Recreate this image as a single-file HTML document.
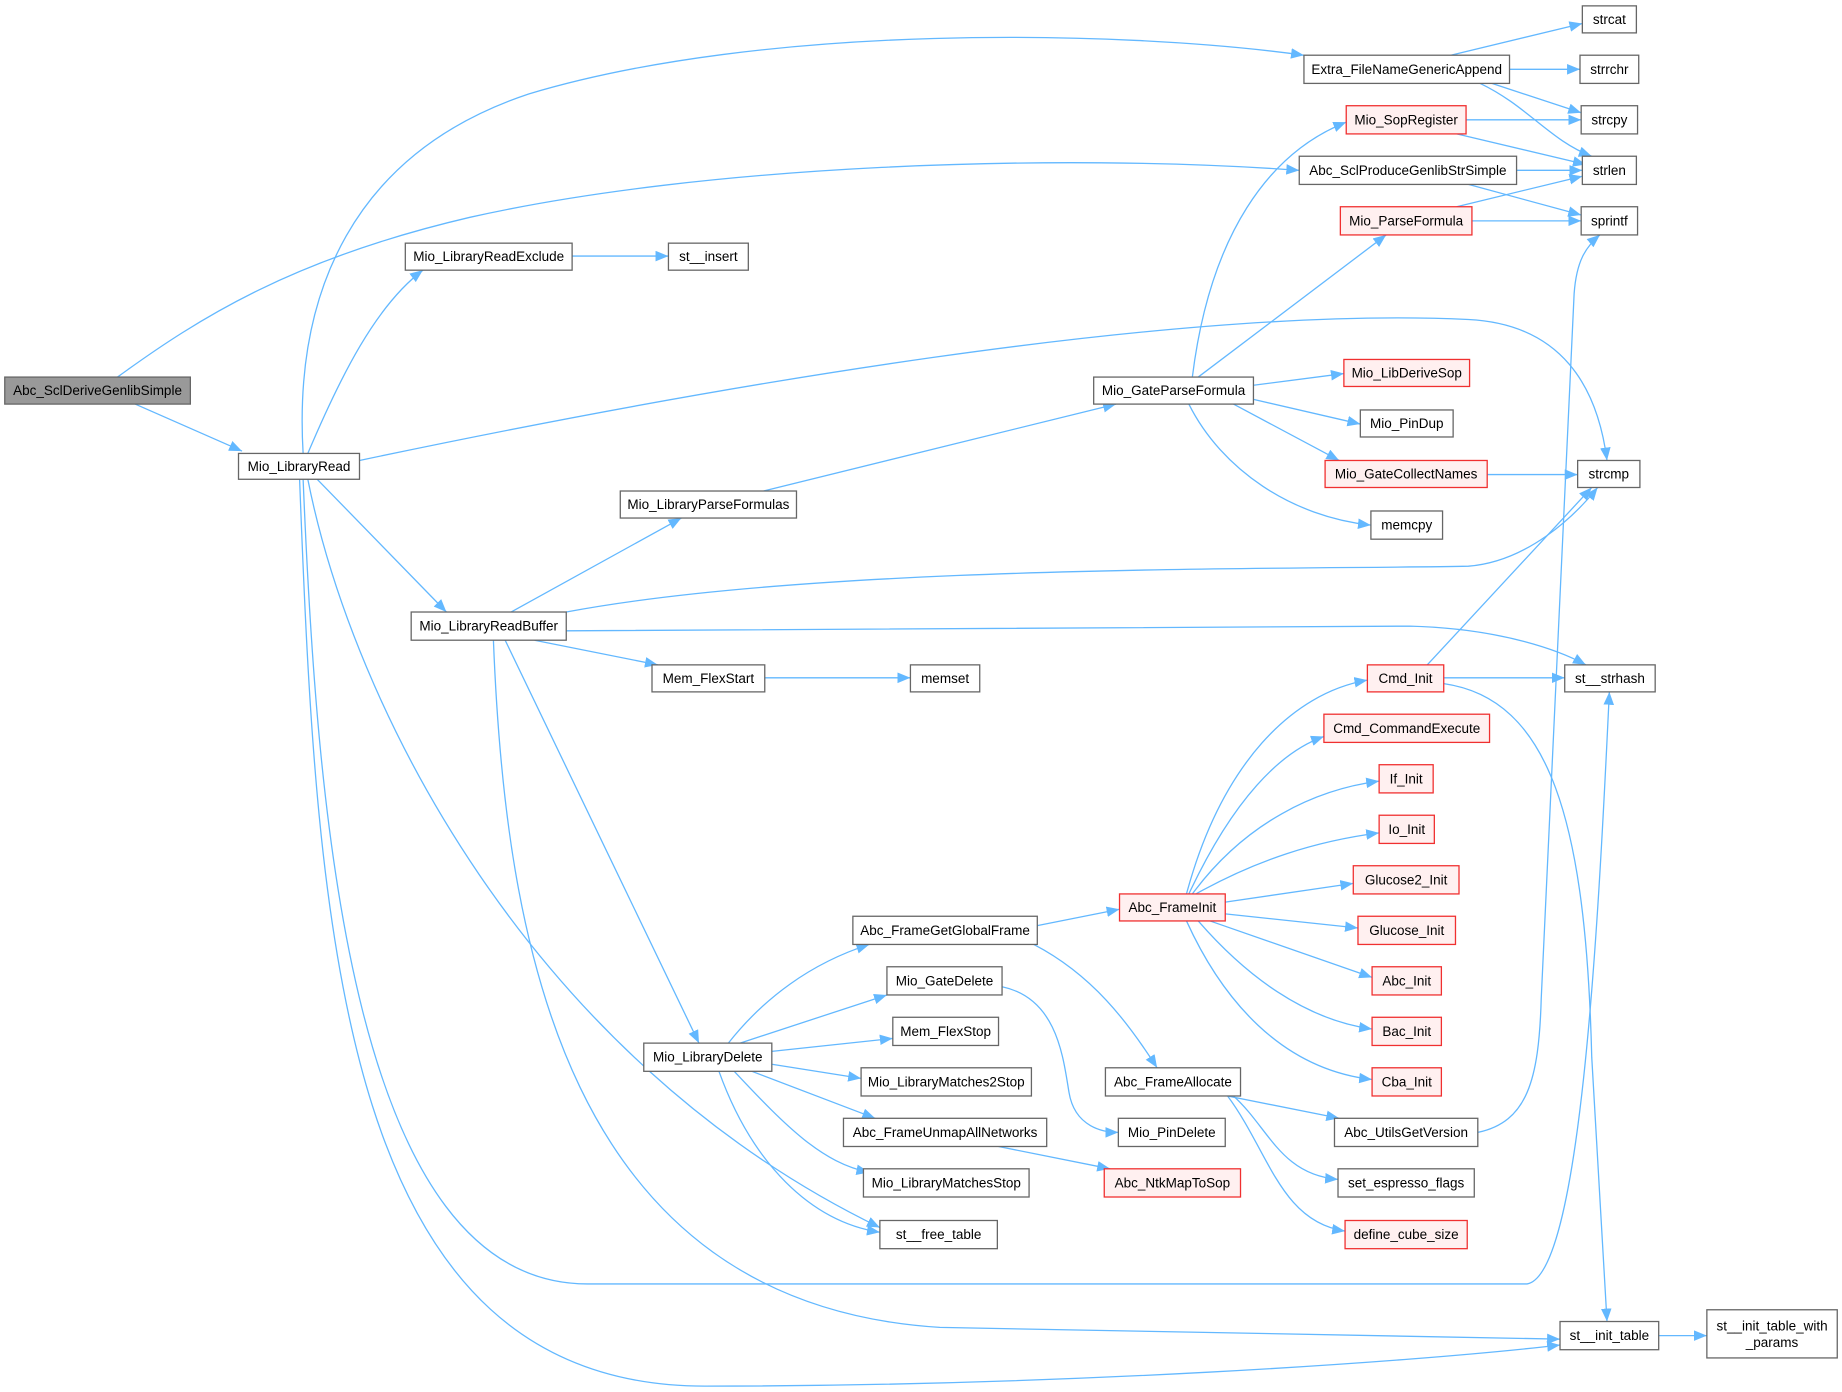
<!DOCTYPE html>
<html><head><meta charset="utf-8"><style>
html,body{margin:0;padding:0;background:#fff;}
svg{display:block;}
text{font-family:"Liberation Sans",Arial,sans-serif;font-size:11.5px;fill:#000;text-anchor:middle;dominant-baseline:central;}
.n{fill:#fff;stroke:#666;stroke-width:1.1;}
.r{fill:#fff0f0;stroke:#f03030;stroke-width:1.1;}
.g{fill:#999;stroke:#666;stroke-width:1.1;}
path.e{fill:none;stroke:#63b8ff;stroke-width:1.1;marker-end:url(#a);}
</style></head><body>
<svg width="1842" height="1392" viewBox="0 0 1568 1185" xmlns="http://www.w3.org/2000/svg">
<defs><marker id="a" markerUnits="userSpaceOnUse" markerWidth="12" markerHeight="10" refX="11" refY="4.5" orient="auto"><path d="M0,0 L11,4.5 L0,9 z" fill="#63b8ff"/></marker></defs>
<g>
<path class="e" d="M115,344 L206,384"/>
<path class="e" d="M100,321 C170,270 250,220 400,185 C600,140 900,130 1106,145"/>
<path class="e" d="M258,386 C250,250 300,130 450,80 C650,20 950,25 1110,47"/>
<path class="e" d="M262,386 C290,320 320,260 360,230"/>
<path class="e" d="M306,392 C600,330 1000,260 1250,272 C1330,276 1360,330 1368,392"/>
<path class="e" d="M270,408 L380,521"/>
<path class="e" d="M262,408 C300,600 450,900 749,1045"/>
<path class="e" d="M258,408 C270,700 300,1093 500,1093 L1300,1093 C1345,1085 1360,800 1370,589"/>
<path class="e" d="M255,408 C270,800 290,1180 600,1180 C900,1180 1200,1160 1328,1145"/>
<path class="e" d="M435,521 L580,441"/>
<path class="e" d="M482,521 C700,480 1100,485 1250,482 C1300,478 1340,440 1360,415"/>
<path class="e" d="M482,537 L1200,533 C1280,535 1330,555 1350,566"/>
<path class="e" d="M455,545 L560,566"/>
<path class="e" d="M430,545 L595,888"/>
<path class="e" d="M420,545 C430,800 480,1110 800,1130 L1328,1140"/>
<path class="e" d="M650,418 L950,344"/>
<path class="e" d="M1015,321 C1030,200 1080,130 1146,104"/>
<path class="e" d="M1020,321 L1180,200"/>
<path class="e" d="M1067,328 L1144,318"/>
<path class="e" d="M1067,340 L1158,361"/>
<path class="e" d="M1050,344 L1140,392"/>
<path class="e" d="M1012,344 C1040,400 1100,440 1167,447"/>
<path class="e" d="M1235,47 L1347,20"/>
<path class="e" d="M1285,59 L1345,59"/>
<path class="e" d="M1270,71 L1346,96"/>
<path class="e" d="M1260,71 C1300,90 1320,120 1355,133"/>
<path class="e" d="M1248,102 L1346,102"/>
<path class="e" d="M1240,114 L1350,140"/>
<path class="e" d="M1291,145 L1347,145"/>
<path class="e" d="M1250,157 L1346,183"/>
<path class="e" d="M1240,176 L1347,150"/>
<path class="e" d="M1253,188 L1346,188"/>
<path class="e" d="M1266,404 L1343,404"/>
<path class="e" d="M487,218 L569,218"/>
<path class="e" d="M651,577 L775,577"/>
<path class="e" d="M1215,566 L1355,415"/>
<path class="e" d="M1229,577 L1332,577"/>
<path class="e" d="M1229,582 C1320,595 1350,700 1355,900 L1368,1125"/>
<path class="e" d="M1258,964 C1300,955 1310,920 1312,850 L1340,250 C1342,222 1350,210 1362,200"/>
<path class="e" d="M1010,761 C1040,650 1100,590 1164,579"/>
<path class="e" d="M1012,761 C1050,680 1090,640 1127,627"/>
<path class="e" d="M1015,761 C1060,700 1120,672 1174,665"/>
<path class="e" d="M1018,761 C1070,732 1120,716 1174,709"/>
<path class="e" d="M1043,768 L1152,752"/>
<path class="e" d="M1043,778 L1156,790"/>
<path class="e" d="M1030,784 L1168,832"/>
<path class="e" d="M1020,784 C1060,830 1110,868 1168,876"/>
<path class="e" d="M1010,784 C1040,850 1090,910 1168,919"/>
<path class="e" d="M883,788 L953,774"/>
<path class="e" d="M880,804 C930,830 960,870 985,909"/>
<path class="e" d="M620,888 C650,850 690,820 740,804"/>
<path class="e" d="M630,888 L755,847"/>
<path class="e" d="M657,895 L760,884"/>
<path class="e" d="M657,906 L733,918"/>
<path class="e" d="M640,912 L745,952"/>
<path class="e" d="M625,912 C670,960 700,990 740,998"/>
<path class="e" d="M612,912 C640,990 690,1040 749,1049"/>
<path class="e" d="M853,840 C900,850 905,900 910,930 C915,960 940,964 952,964"/>
<path class="e" d="M850,976 L945,995"/>
<path class="e" d="M1045,933 L1140,952"/>
<path class="e" d="M1050,933 C1080,960 1090,1000 1139,1004"/>
<path class="e" d="M1045,933 C1080,980 1090,1040 1145,1048"/>
<path class="e" d="M1412,1137 L1453,1137"/>
</g>
<g>
<rect class="g" x="4" y="321" width="158" height="23"/><text x="83" y="332.5">Abc_SclDeriveGenlibSimple</text>
<rect class="n" x="203" y="386" width="103" height="22"/><text x="254.5" y="397">Mio_LibraryRead</text>
<rect class="n" x="1110" y="47" width="175" height="24"/><text x="1197.5" y="59">Extra_FileNameGenericAppend</text>
<rect class="n" x="1106" y="133" width="185" height="24"/><text x="1198.5" y="145">Abc_SclProduceGenlibStrSimple</text>
<rect class="n" x="345" y="207" width="142" height="23"/><text x="416" y="218.5">Mio_LibraryReadExclude</text>
<rect class="n" x="569" y="207" width="68" height="23"/><text x="603" y="218.5">st__insert</text>
<rect class="n" x="1347" y="5" width="46" height="23"/><text x="1370" y="16.5">strcat</text>
<rect class="n" x="1345" y="47" width="50" height="24"/><text x="1370" y="59">strrchr</text>
<rect class="n" x="1346" y="90" width="48" height="24"/><text x="1370" y="102">strcpy</text>
<rect class="n" x="1347" y="133" width="46" height="24"/><text x="1370" y="145">strlen</text>
<rect class="n" x="1346" y="176" width="48" height="24"/><text x="1370" y="188">sprintf</text>
<rect class="r" x="1146" y="90" width="102" height="24"/><text x="1197" y="102">Mio_SopRegister</text>
<rect class="r" x="1141" y="176" width="112" height="24"/><text x="1197" y="188">Mio_ParseFormula</text>
<rect class="n" x="931" y="321" width="136" height="23"/><text x="999" y="332.5">Mio_GateParseFormula</text>
<rect class="r" x="1144" y="306" width="107" height="23"/><text x="1197.5" y="317.5">Mio_LibDeriveSop</text>
<rect class="n" x="1158" y="349" width="79" height="23"/><text x="1197.5" y="360.5">Mio_PinDup</text>
<rect class="r" x="1128" y="392" width="138" height="23"/><text x="1197" y="403.5">Mio_GateCollectNames</text>
<rect class="n" x="1167" y="435" width="61" height="24"/><text x="1197.5" y="447">memcpy</text>
<rect class="n" x="1343" y="392" width="53" height="23"/><text x="1369.5" y="403.5">strcmp</text>
<rect class="n" x="528" y="418" width="150" height="23"/><text x="603" y="429.5">Mio_LibraryParseFormulas</text>
<rect class="n" x="350" y="521" width="132" height="24"/><text x="416" y="533">Mio_LibraryReadBuffer</text>
<rect class="n" x="555" y="566" width="96" height="23"/><text x="603" y="577.5">Mem_FlexStart</text>
<rect class="n" x="775" y="566" width="59" height="23"/><text x="804.5" y="577.5">memset</text>
<rect class="n" x="1332" y="566" width="77" height="23"/><text x="1370.5" y="577.5">st__strhash</text>
<rect class="r" x="1164" y="566" width="65" height="23"/><text x="1196.5" y="577.5">Cmd_Init</text>
<rect class="r" x="1127" y="608" width="141" height="24"/><text x="1197.5" y="620">Cmd_CommandExecute</text>
<rect class="r" x="1174" y="651" width="46" height="24"/><text x="1197" y="663">If_Init</text>
<rect class="r" x="1174" y="694" width="47" height="24"/><text x="1197.5" y="706">Io_Init</text>
<rect class="r" x="1152" y="737" width="90" height="24"/><text x="1197" y="749">Glucose2_Init</text>
<rect class="r" x="1156" y="780" width="83" height="24"/><text x="1197.5" y="792">Glucose_Init</text>
<rect class="r" x="1168" y="823" width="59" height="24"/><text x="1197.5" y="835">Abc_Init</text>
<rect class="r" x="1168" y="866" width="59" height="24"/><text x="1197.5" y="878">Bac_Init</text>
<rect class="r" x="1168" y="909" width="59" height="24"/><text x="1197.5" y="921">Cba_Init</text>
<rect class="r" x="953" y="761" width="90" height="23"/><text x="998" y="772.5">Abc_FrameInit</text>
<rect class="n" x="726" y="780" width="157" height="24"/><text x="804.5" y="792">Abc_FrameGetGlobalFrame</text>
<rect class="n" x="755" y="823" width="98" height="24"/><text x="804" y="835">Mio_GateDelete</text>
<rect class="n" x="760" y="866" width="90" height="24"/><text x="805" y="878">Mem_FlexStop</text>
<rect class="n" x="733" y="909" width="145" height="24"/><text x="805.5" y="921">Mio_LibraryMatches2Stop</text>
<rect class="n" x="718" y="952" width="173" height="24"/><text x="804.5" y="964">Abc_FrameUnmapAllNetworks</text>
<rect class="n" x="735" y="995" width="141" height="24"/><text x="805.5" y="1007">Mio_LibraryMatchesStop</text>
<rect class="n" x="749" y="1039" width="100" height="24"/><text x="799" y="1051">st__free_table</text>
<rect class="n" x="548" y="888" width="109" height="24"/><text x="602.5" y="900">Mio_LibraryDelete</text>
<rect class="n" x="941" y="909" width="115" height="24"/><text x="998.5" y="921">Abc_FrameAllocate</text>
<rect class="n" x="952" y="952" width="91" height="24"/><text x="997.5" y="964">Mio_PinDelete</text>
<rect class="r" x="940" y="995" width="116" height="24"/><text x="998" y="1007">Abc_NtkMapToSop</text>
<rect class="n" x="1136" y="952" width="122" height="24"/><text x="1197" y="964">Abc_UtilsGetVersion</text>
<rect class="n" x="1139" y="995" width="116" height="24"/><text x="1197" y="1007">set_espresso_flags</text>
<rect class="r" x="1145" y="1039" width="104" height="24"/><text x="1197" y="1051">define_cube_size</text>
<rect class="n" x="1328" y="1125" width="84" height="24"/><text x="1370" y="1137">st__init_table</text>
<rect class="n" x="1453" y="1115" width="111" height="41"/><text x="1508.5" y="1129">st__init_table_with</text><text x="1508.5" y="1143">_params</text>
</g>
</svg>
</body></html>
